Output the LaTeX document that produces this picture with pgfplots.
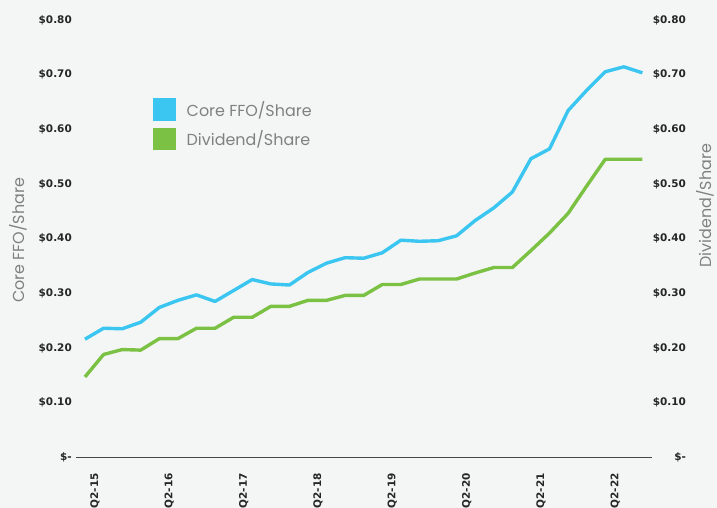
\documentclass[border=0pt]{standalone}
\usepackage{pgfplots}
\pgfplotsset{compat=1.18}
\usepackage{fontspec}
\setmainfont{Poppins}
\newfontfamily\tickfont{DejaVu Sans}
\definecolor{bg}{HTML}{F4F6F5}
\definecolor{ffo}{HTML}{3BC6F1}
\definecolor{divc}{HTML}{7BC143}
\definecolor{lbl}{HTML}{808080}
\definecolor{tk}{HTML}{262626}
\pgfplotstableread{
q ffo div
0 0.216 0.147
1 0.236 0.188
2 0.235 0.197
3 0.247 0.196
4 0.274 0.217
5 0.287 0.217
6 0.297 0.236
7 0.285 0.236
8 0.305 0.256
9 0.325 0.256
10 0.317 0.276
11 0.315 0.276
12 0.338 0.287
13 0.355 0.287
14 0.365 0.296
15 0.364 0.296
16 0.374 0.316
17 0.397 0.316
18 0.395 0.326
19 0.396 0.326
20 0.405 0.326
21 0.433 0.337
22 0.456 0.347
23 0.485 0.347
24 0.546 0.378
25 0.564 0.410
26 0.634 0.446
27 0.671 0.496
28 0.705 0.545
29 0.714 0.545
30 0.703 0.545
}\datatable
\begin{document}
\begin{tikzpicture}
\useasboundingbox[fill=bg] (0,0) rectangle (717bp,508bp);
\pgfplotsset{
  common/.style={
    at={(75.7bp,50.7bp)}, anchor=south west,
    scale only axis, width=576bp, height=437.5bp,
    xmin=-0.5, xmax=30.5, ymin=0, ymax=0.8,
    major tick length=0pt,
    ytick={0,0.1,0.2,0.3,0.4,0.5,0.6,0.7,0.8},
    yticklabels={\$-\hspace{10bp},\$0.10,\$0.20,\$0.30,\$0.40,\$0.50,\$0.60,\$0.70,\$0.80},
    tick label style={font=\tickfont\bfseries\fontsize{10.5}{12}\selectfont, text=tk, inner sep=0pt},
  }
}
\begin{axis}[common,
  axis x line*=bottom, axis y line*=left,
  x axis line style={-, draw=tk!85, line width=1bp},
  y axis line style={draw=none},
  xtick={0.54,4.54,8.54,12.54,16.54,20.54,24.54,28.54},
  xticklabels={Q2-15,Q2-16,Q2-17,Q2-18,Q2-19,Q2-20,Q2-21,Q2-22},
  xticklabel style={rotate=90, anchor=east},
  xticklabel shift=15.7bp,
  yticklabel style={anchor=east, text width=34bp, align=right},
  yticklabel shift=3.7bp,
  ylabel={Core FFO/Share},
  every axis y label/.style={at={(axis description cs:-0.1002,0.496)}, rotate=90, anchor=center, font=\fontsize{16}{19}\selectfont, text=lbl},
  legend style={draw=none, fill=none, at={(axis description cs:0.1337,0.8206)}, anchor=north west,
    inner sep=0pt, outer sep=0pt, row sep=7bp, column sep=11bp,
    nodes={inner sep=0pt}, font=\fontsize{16}{19}\selectfont, text=lbl},
  legend cell align=left,
  legend image code/.code={\fill[#1, draw=none] (0bp,-11.2bp) rectangle (23bp,11.2bp);},
]
\addplot[color=ffo, line width=3.4bp, line join=round] table[x=q, y=ffo] {\datatable};
\addlegendentry{Core FFO/Share}
\addplot[color=divc, line width=3.4bp, line join=round] table[x=q, y=div] {\datatable};
\addlegendentry{Dividend/Share}
\end{axis}
\begin{axis}[common,
  hide x axis,
  axis y line*=right,
  y axis line style={draw=none},
  yticklabel style={anchor=west, text width=34bp, align=right},
  yticklabel shift=0bp,
  ylabel={Dividend/Share},
  every axis y label/.style={at={(axis description cs:1.0925,0.575)}, rotate=90, anchor=center, inner sep=0pt, font=\fontsize{16}{19}\selectfont, text=lbl},
]
\addplot[draw=none] table[x=q, y=div] {\datatable};
\end{axis}
\end{tikzpicture}
\end{document}
